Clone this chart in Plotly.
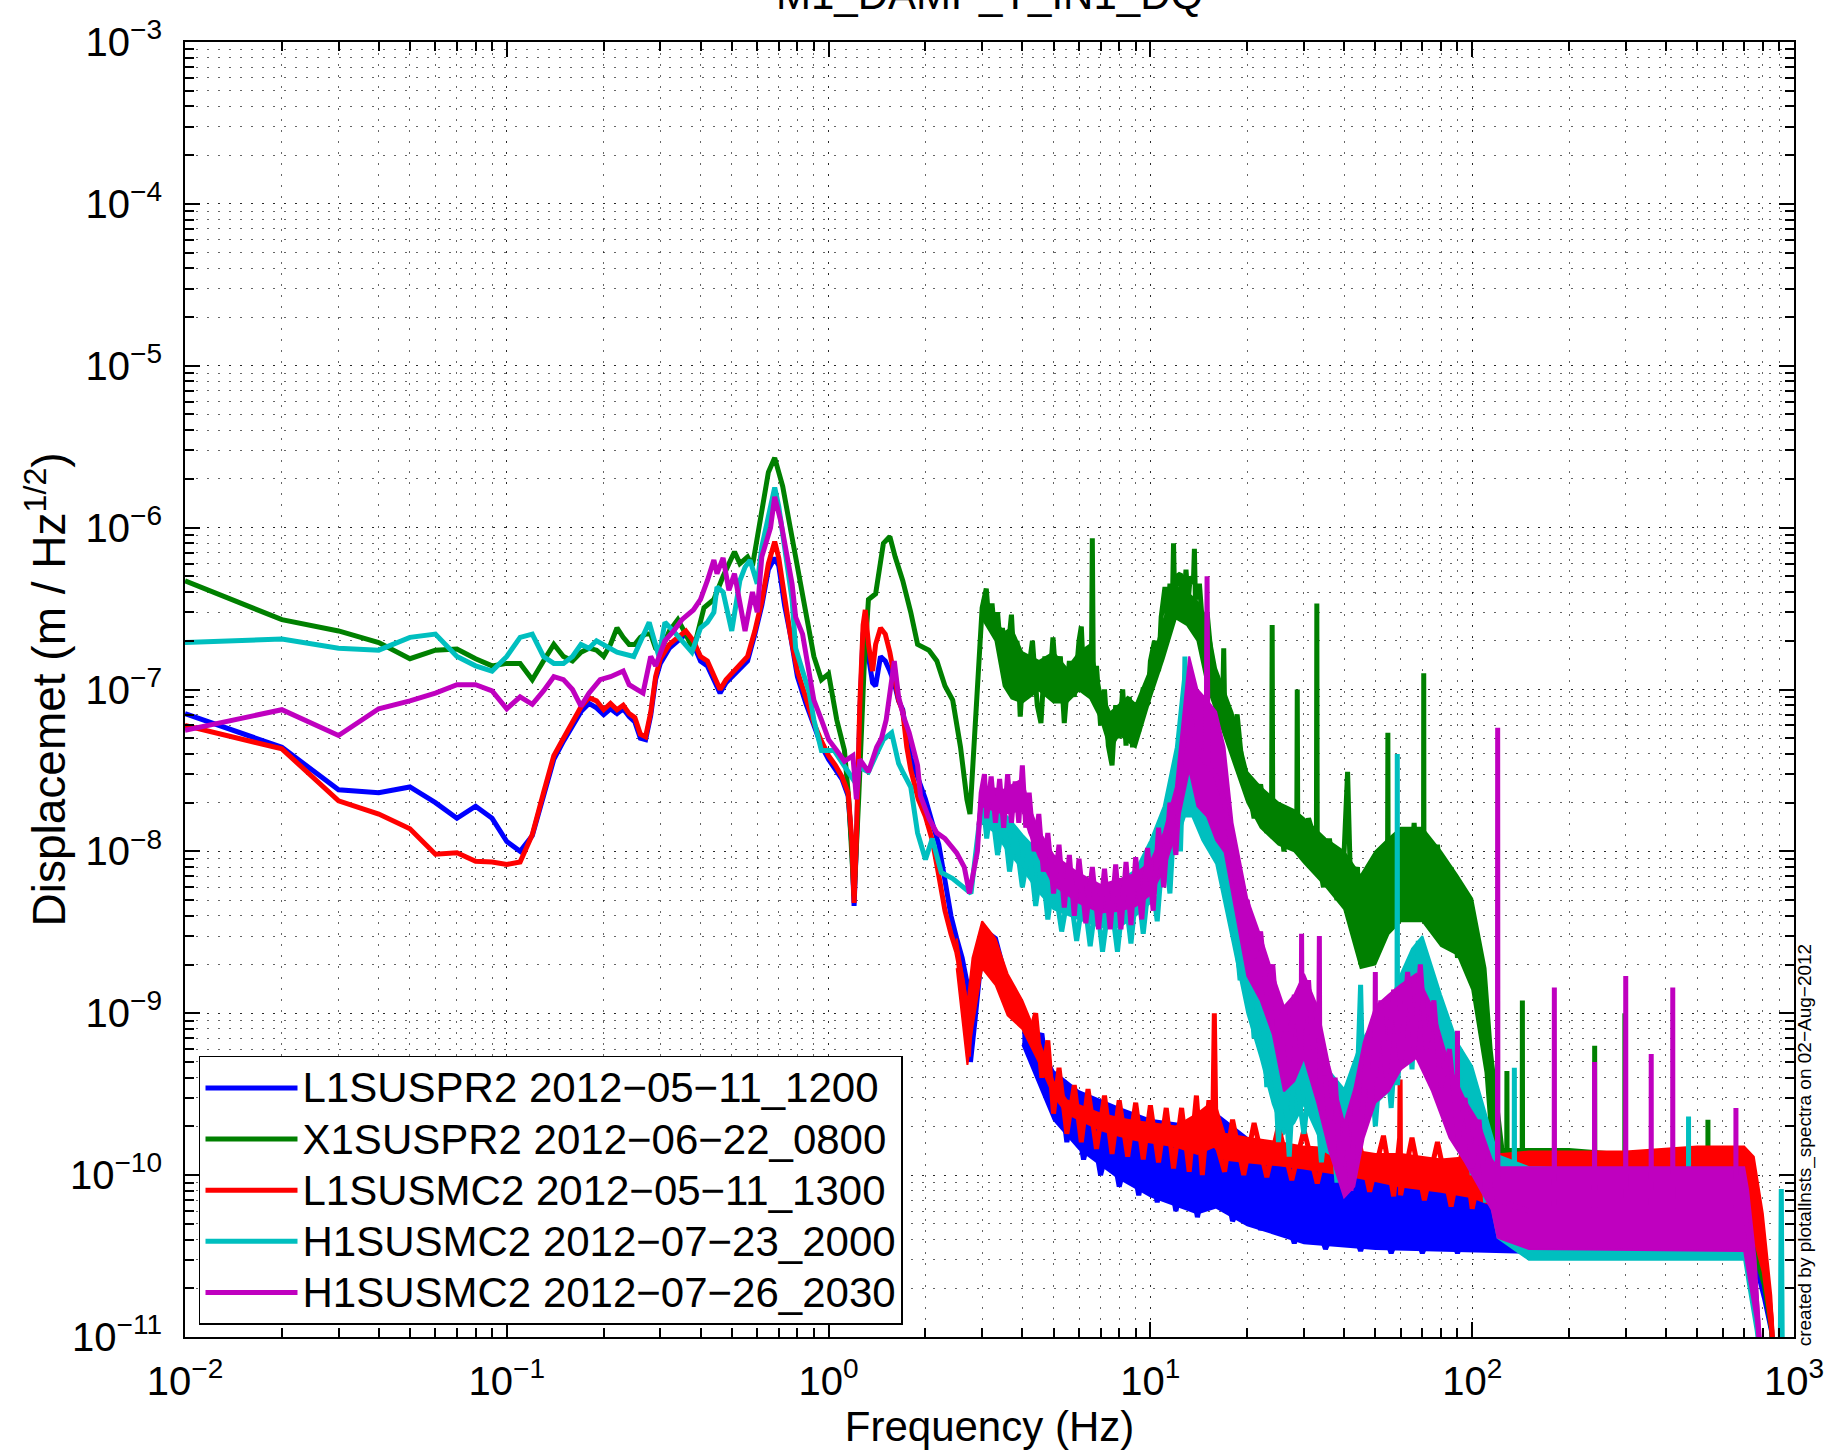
import plotly.graph_objects as go

# ---------------- data ----------------
legend_names = [
    "L1SUSPR2 2012\u221205\u221211_1200",
    "X1SUSPR2 2012\u221206\u221222_0800",
    "L1SUSMC2 2012\u221205\u221211_1300",
    "H1SUSMC2 2012\u221207\u221223_2000",
    "H1SUSMC2 2012\u221207\u221226_2030",
]
series_colors = ["#0000ff", "#008000", "#ff0000", "#00bfbf", "#bf00bf"]

# common low-frequency grid (Hz) used by the L1 traces
l1_f_low = [0.01,0.02,0.03,0.04,0.05,0.06,0.07,0.08,0.09,0.10,
            0.11,0.12,0.13,0.14,0.15,0.16,0.17,0.18,0.19,0.20,
            0.21,0.22,0.23,0.24,0.25,0.26,0.27,0.28,0.29,0.30,
            0.32,0.34,0.36,0.38,0.40,0.42,0.44,0.46,0.48,0.50,
            0.53,0.56,0.59,0.62,0.65,0.68,0.70,0.73,0.76,0.80,
            0.85,0.90,0.95,1.00,1.05,1.10,1.15,1.18,1.20,1.22,
            1.25,1.28,1.30,1.33,1.37,1.40,1.45,1.50,1.55,1.60,
            1.65,1.70,1.75,1.80,1.90,2.0,2.1,2.2,2.3,2.4,
            2.5,2.6,2.7,2.72,2.76,2.85,2.95,3.05,3.15,3.3,
            3.45,3.6,3.8,4.0]

# --- L1SUSPR2 (blue) ---
blue_v_low = [7.1e-8,4.4e-8,2.4e-8,2.3e-8,2.5e-8,2.0e-8,1.6e-8,1.9e-8,1.6e-8,1.15e-8,
              1.0e-8,1.25e-8,2.2e-8,3.7e-8,4.8e-8,6.0e-8,7.3e-8,8.2e-8,7.7e-8,7.0e-8,
              7.6e-8,7.1e-8,7.6e-8,6.8e-8,6.3e-8,5.0e-8,4.9e-8,6.9e-8,1.15e-7,1.45e-7,
              1.8e-7,2.0e-7,2.2e-7,1.9e-7,1.5e-7,1.4e-7,1.15e-7,9.5e-8,1.1e-7,1.2e-7,
              1.35e-7,1.5e-7,2.2e-7,3.3e-7,5.5e-7,6.5e-7,5.8e-7,3.3e-7,2.2e-7,1.2e-7,
              8.2e-8,6.0e-8,4.5e-8,3.7e-8,3.2e-8,2.8e-8,2.2e-8,1.1e-8,4.6e-9,1.1e-8,
              7.0e-8,2.2e-7,2.7e-7,1.6e-7,1.1e-7,1.05e-7,1.6e-7,1.5e-7,1.3e-7,1.1e-7,
              8.5e-8,7.5e-8,5.0e-8,3.8e-8,2.8e-8,2.1e-8,1.5e-8,1.1e-8,6.6e-9,4.0e-9,
              2.9e-9,2.2e-9,1.5e-9,9.0e-10,5.0e-10,9.0e-10,1.8e-9,2.5e-9,3.1e-9,2.9e-9,
              2.0e-9,1.5e-9,1.25e-9,1.05e-9]
blue_f_mid = [4.3,4.6,4.9,5.2,5.5,5.8,6.2,6.6,7.0,7.5,
              8.0,8.6,9.2,9.8,10.5,11.2,12,13,14,15,
              15.7,15.8,15.9,17,18,20,22,25,28,31,
              35,40,45,50,56,63,70,80,90,100,
              115,300,700,760,800,850,870]
blue_v_mid = [6.0e-10,7.5e-10,2.6e-10,4.0e-10,1.6e-10,2.6e-10,1.25e-10,2.0e-10,1.0e-10,1.7e-10,
              8.5e-11,1.5e-10,7.5e-11,1.4e-10,6.8e-11,1.3e-10,6.0e-11,1.2e-10,5.5e-11,1.1e-10,
              1.6e-10,4.0e-10,1.6e-10,9.0e-11,5.2e-11,8.0e-11,4.6e-11,7.5e-11,3.8e-11,7.0e-11,
              3.5e-11,6.5e-11,3.4e-11,6.2e-11,3.3e-11,6.0e-11,3.3e-11,6.0e-11,3.3e-11,6.0e-11,
              4.5e-11,6.0e-11,6.0e-11,5.0e-11,3.0e-11,1.2e-11,5e-12]
blue_band_f = [4.0,5.0,6.0,8.0,10,14,16,20,30,50,100,300,700,750,800,850,870]
blue_band_hi = [1.1e-9,4.4e-10,3.3e-10,2.6e-10,2.2e-10,2.0e-10,2.4e-10,1.7e-10,1.45e-10,1.3e-10,
                1.2e-10,1.1e-10,1.1e-10,9.5e-11,4.1e-11,1.4e-11,8e-12]
blue_band_lo = [6.4e-10,2.2e-10,1.45e-10,9.5e-11,7.4e-11,5.8e-11,6.3e-11,4.9e-11,3.8e-11,3.5e-11,
                3.4e-11,3.2e-11,3.2e-11,2.9e-11,1.75e-11,1e-11,6e-12]

# --- L1SUSMC2 (red) ---
red_v_low = [6.0e-8,4.3e-8,2.05e-8,1.7e-8,1.38e-8,9.6e-9,9.8e-9,8.7e-9,8.6e-9,8.3e-9,
             8.6e-9,1.27e-8,2.3e-8,3.9e-8,5.0e-8,6.3e-8,7.8e-8,8.9e-8,8.5e-8,7.5e-8,
             8.2e-8,7.5e-8,8.0e-8,7.1e-8,6.7e-8,5.3e-8,5.1e-8,7.2e-8,1.2e-7,1.55e-7,
             1.9e-7,2.1e-7,2.3e-7,2.0e-7,1.6e-7,1.5e-7,1.2e-7,1.0e-7,1.15e-7,1.25e-7,
             1.4e-7,1.6e-7,2.3e-7,3.5e-7,6.0e-7,8.2e-7,6.5e-7,3.5e-7,2.2e-7,1.3e-7,
             8.8e-8,6.2e-8,4.8e-8,3.9e-8,3.4e-8,2.9e-8,2.3e-8,1.2e-8,4.8e-9,1.2e-8,
             8.0e-8,2.5e-7,3.1e-7,1.9e-7,1.3e-7,1.9e-7,2.4e-7,2.2e-7,1.7e-7,1.2e-7,
             8.6e-8,7.3e-8,4.4e-8,3.2e-8,2.1e-8,1.64e-8,1.17e-8,7.1e-9,4.3e-9,3.1e-9,
             2.4e-9,1.6e-9,9.7e-10,5.4e-10,9.7e-10,1.9e-9,2.7e-9,3.3e-9,3.1e-9,2.2e-9,
             1.6e-9,1.35e-9,1.15e-9,9.7e-10]
red_f_mid = [4.2,4.4,4.6,4.8,5.0,5.2,5.5,5.8,6.1,6.4,
             6.8,7.2,7.6,8.0,8.5,9.0,9.5,10,10.6,11.2,
             11.8,12.5,13.2,13.9,14.5,15.2,15.6,15.8,16.0,17,
             18,19.5,21,23,25,27.5,30,33,36,40,
             44,48,53,57,59.5,59.7,59.9,65,71,78,
             86,94,100,110,120,200,400,700,750,800,
             850,870]
red_v_mid = [7.0e-10,1.0e-9,4.0e-10,6.8e-10,2.4e-10,4.6e-10,1.8e-10,3.6e-10,1.6e-10,3.4e-10,
             1.45e-10,3.1e-10,1.35e-10,2.9e-10,1.3e-10,2.8e-10,1.25e-10,2.7e-10,1.2e-10,2.6e-10,
             1.1e-10,2.6e-10,1.05e-10,3.1e-10,1.0e-10,2.9e-10,1.6e-10,1.0e-9,1.6e-10,1.05e-10,
             2.2e-10,1.0e-10,2.1e-10,9.7e-11,2.0e-10,9.3e-11,1.9e-10,8.9e-11,1.85e-10,8.5e-11,
             1.8e-10,7.9e-11,1.75e-10,7.4e-11,1.7e-10,3.9e-10,7.5e-11,1.7e-10,7.0e-11,1.6e-10,
             6.4e-11,1.55e-10,6.2e-11,1.5e-10,5.8e-11,9.5e-11,9.5e-11,1.0e-10,8.0e-11,4.0e-11,
             1.3e-11,5e-12]
red_band_f = [2.5,2.7,2.8,3.0,3.3,3.6,4.0,4.5,5.0,5.5,
              6.0,7.0,8.0,9.0,10,12,14,15.8,17,20,
              25,30,40,50,60,80,100,150,300,500,
              700,750,800,850,870]
red_band_hi = [2.9e-9,1.15e-9,2.2e-9,3.7e-9,2.9e-9,1.75e-9,1.2e-9,6.8e-10,3.8e-10,2.9e-10,
               2.7e-10,2.4e-10,2.25e-10,2.15e-10,2.1e-10,2.0e-10,2.4e-10,2.9e-10,1.8e-10,1.7e-10,
               1.6e-10,1.5e-10,1.45e-10,1.35e-10,1.35e-10,1.25e-10,1.3e-10,1.4e-10,1.4e-10,1.5e-10,
               1.5e-10,1.3e-10,5.8e-11,1.8e-11,8e-12]
red_band_lo = [1.9e-9,4.8e-10,8.2e-10,1.9e-9,1.5e-9,9.7e-10,8.0e-10,5.0e-10,3.1e-10,2.4e-10,
               2.2e-10,1.9e-10,1.75e-10,1.65e-10,1.6e-10,1.5e-10,1.35e-10,1.5e-10,1.25e-10,1.2e-10,
               1.15e-10,1.1e-10,1.0e-10,9.2e-11,8.5e-11,7.9e-11,7.3e-11,5.3e-11,4.9e-11,4.7e-11,
               4.9e-11,4.1e-11,2.5e-11,1e-11,6e-12]

# --- X1SUSPR2 (green) ---
green_f_low = [0.01,0.02,0.03,0.04,0.05,0.06,0.07,0.08,0.09,0.10,
               0.11,0.12,0.13,0.14,0.15,0.16,0.17,0.18,0.19,0.20,
               0.21,0.22,0.23,0.24,0.25,0.26,0.27,0.28,0.29,0.30,
               0.32,0.34,0.36,0.38,0.41,0.44,0.47,0.51,0.53,0.56,
               0.58,0.61,0.65,0.68,0.72,0.76,0.80,0.84,0.87,0.90,
               0.95,1.00,1.06,1.12,1.155,1.19,1.20,1.24,1.29,1.33,
               1.40,1.48,1.55,1.61,1.70,1.80,1.89,2.05,2.17,2.30,
               2.43,2.57,2.69,2.75,2.84,2.92,3.0,3.09,3.15,3.22,
               3.27,3.35,3.42,3.47,3.55,3.6,3.65,3.7,3.78,3.85,
               3.94,4.05,4.17,4.3,4.45,4.57,4.7,4.85,4.98,5.1,
               5.25,5.4,5.6,5.8,6.0,6.1,6.2,6.3,6.55,6.6,
               6.65,6.8,7.0,7.2,7.4,7.6,7.8,8.0,8.2,8.4,
               8.6,8.8,9.0,9.2,9.5,9.8,10.0,10.3,10.6,10.8,
               11.1,11.3,11.5,11.7,11.8,11.9,12.1,12.4,12.6,12.9,
               13.1,13.3,13.6,13.7,13.8,14.2,14.5,15,15.5,16,
               16.5,16.8,16.9,17,17.5,18,18.6,19.4]
green_v_low = [4.7e-7,2.7e-7,2.3e-7,1.95e-7,1.55e-7,1.75e-7,1.78e-7,1.55e-7,1.4e-7,1.45e-7,
               1.45e-7,1.15e-7,1.5e-7,1.9e-7,1.6e-7,1.5e-7,1.7e-7,1.8e-7,1.75e-7,1.6e-7,
               1.9e-7,2.4e-7,2.1e-7,1.9e-7,1.9e-7,2.1e-7,2.2e-7,2.2e-7,1.8e-7,1.7e-7,
               2.3e-7,2.7e-7,2.2e-7,1.75e-7,3.2e-7,3.6e-7,5.0e-7,7.1e-7,6.0e-7,6.6e-7,
               5.8e-7,1.07e-6,2.2e-6,2.7e-6,1.8e-6,1.0e-6,5.7e-7,3.4e-7,2.2e-7,1.6e-7,
               1.15e-7,1.25e-7,6.5e-8,4.2e-8,2.1e-8,8.0e-9,5.3e-9,2.1e-8,1.4e-7,3.6e-7,
               3.9e-7,8.0e-7,8.8e-7,6.6e-7,4.7e-7,3.0e-7,1.9e-7,1.75e-7,1.5e-7,1.05e-7,
               8.6e-8,4.4e-8,2.1e-8,1.7e-8,5.3e-8,1.4e-7,3.2e-7,4.2e-7,2.6e-7,3.4e-7,
               2.4e-7,3.0e-7,1.8e-7,2.4e-7,1.2e-7,1.0e-7,2.2e-7,2.9e-7,1.3e-7,2.0e-7,
               6.8e-8,1.6e-7,1.26e-7,2.0e-7,8.0e-8,6.2e-8,1.6e-7,1.0e-7,2.1e-7,1.1e-7,
               1.6e-7,6.2e-8,1.5e-7,9.0e-8,2.0e-7,2.45e-7,1.2e-7,1.5e-7,1.0e-7,8.6e-7,
               1.1e-7,1.4e-7,6.0e-8,1.0e-7,4.5e-8,3.4e-8,8.0e-8,5.0e-8,1.0e-7,4.5e-8,
               9.0e-8,4.4e-8,8.0e-8,5.5e-8,1.03e-7,8.0e-8,1.5e-7,2.0e-7,1.3e-7,2.8e-7,
               4.3e-7,2.5e-7,4.5e-7,3.3e-7,8.0e-7,3.5e-7,5.0e-7,5.2e-7,3.0e-7,5.5e-7,
               3.5e-7,5.0e-7,4.5e-7,7.4e-7,3.6e-7,4.5e-7,2.6e-7,3.0e-7,1.5e-7,1.2e-7,
               7.0e-8,1.0e-7,1.8e-7,8.0e-8,6.0e-8,5.0e-8,7.0e-8,3.0e-8]
green_f_high = [20,21,22,23,23.8,23.9,24.0,25,26,27,
                28.5,28.6,28.7,30,31,32.8,32.9,33.0,34.5,36,
                38,40,41,42,44,45,47,49,51,53,
                54.6,54.7,54.8,57,60,63,66,68.5,70.6,70.7,
                70.8,74,78,82,86,90,95,101,110,118,
                128,128.2,128.4,143,143.2,143.4,240,240.2,240.4,298,
                298.2,298.4,540,540.2,540.4,750,800,850,870]
green_v_high = [2.8e-8,1.6e-8,2.6e-8,1.3e-8,1.8e-8,2.5e-7,1.6e-8,2.0e-8,1.0e-8,1.8e-8,
                1.4e-8,1.0e-7,1.3e-8,9.0e-9,1.6e-8,1.1e-8,3.4e-7,1.0e-8,6.0e-9,1.2e-8,
                5.0e-9,1.0e-8,3.1e-8,5.0e-9,8.0e-9,2.0e-9,7.0e-9,2.2e-9,9.0e-9,3.0e-9,
                1.2e-8,5.4e-8,8.0e-9,3.5e-9,1.4e-8,4.0e-9,1.5e-8,5.0e-9,1.2e-8,1.26e-7,
                8.0e-9,3.5e-9,1.1e-8,3.0e-9,8.0e-9,2.2e-9,5.0e-9,3.0e-9,8.0e-10,1.2e-10,
                1.0e-10,4.4e-10,1.0e-10,1.0e-10,1.2e-9,1.0e-10,8.0e-11,6.3e-10,8.0e-11,8.0e-11,
                1.0e-9,8.0e-11,8.0e-11,2.2e-10,8.0e-11,7.0e-11,3.0e-11,1.2e-11,5e-12]
green_band_f = [3.0,3.3,3.5,3.7,4.0,4.5,5.0,5.5,6.0,6.5,
                7.0,7.5,8.0,8.5,9.0,10,11,12,13,14,
                15,16,18,20,22,25,28,30,35,40,
                45,50,55,60,70,80,90,100,110,115,
                125,200,400,700,750,800,850,870]
green_band_hi = [3.6e-7,2.7e-7,2.25e-7,2.4e-7,1.7e-7,1.5e-7,1.7e-7,1.35e-7,1.7e-7,1.9e-7,
                 9.9e-8,7.2e-8,8.1e-8,9.0e-8,8.1e-8,1.35e-7,2.7e-7,4.3e-7,4.0e-7,3.5e-7,
                 2.7e-7,1.35e-7,7.2e-8,3.1e-8,2.5e-8,2.0e-8,1.8e-8,1.6e-8,1.2e-8,1.0e-8,
                 7.1e-9,1.0e-8,1.2e-8,1.4e-8,1.4e-8,1.0e-8,7.1e-9,5.1e-9,1.9e-9,5.9e-10,
                 1.45e-10,1.45e-10,1.3e-10,1.3e-10,1.1e-10,4.9e-11,1.4e-11,8e-12]
green_band_lo = [2.75e-7,2.0e-7,1.05e-7,8.8e-8,8.3e-8,9.9e-8,8.3e-8,8.3e-8,9.9e-8,8.8e-8,
                 6.6e-8,4.2e-8,5.3e-8,4.8e-8,4.4e-8,8.8e-8,1.55e-7,2.75e-7,2.5e-7,2.0e-7,
                 1.05e-7,7.2e-8,3.7e-8,2.0e-8,1.4e-8,1.1e-8,1.0e-8,8.5e-9,6.1e-9,4.4e-9,
                 1.9e-9,2.0e-9,3.1e-9,3.7e-9,3.7e-9,2.6e-9,2.3e-9,1.4e-9,4.3e-10,1.33e-10,
                 4.9e-11,4.1e-11,3.8e-11,3.8e-11,3.2e-11,2.1e-11,1e-11,6e-12]

# --- H1SUSMC2 2012-07-23 (cyan) ---
cyan_f_low = [0.01,0.02,0.03,0.04,0.05,0.06,0.07,0.08,0.09,0.10,
              0.11,0.12,0.13,0.14,0.15,0.16,0.17,0.18,0.19,0.20,
              0.22,0.248,0.277,0.297,0.31,0.336,0.376,0.40,0.42,0.44,
              0.45,0.47,0.50,0.53,0.55,0.57,0.60,0.62,0.66,0.68,
              0.70,0.73,0.77,0.79,0.84,0.87,0.90,0.95,1.04,1.11,
              1.19,1.25,1.33,1.41,1.48,1.57,1.65,1.70,1.80,1.89,
              2.0,2.1,2.24,2.43,2.64,2.77,2.95]
cyan_v_low = [1.95e-7,2.05e-7,1.8e-7,1.75e-7,2.1e-7,2.2e-7,1.6e-7,1.4e-7,1.3e-7,1.6e-7,
              2.1e-7,2.2e-7,1.6e-7,1.45e-7,1.45e-7,1.6e-7,1.9e-7,1.8e-7,2.0e-7,1.9e-7,
              1.7e-7,1.6e-7,2.6e-7,1.6e-7,2.6e-7,2.2e-7,1.7e-7,2.4e-7,2.6e-7,3.0e-7,
              4.3e-7,4.0e-7,2.3e-7,4.7e-7,5.7e-7,6.3e-7,4.5e-7,7.6e-7,1.28e-6,1.77e-6,
              1.35e-6,7.3e-7,3.6e-7,1.8e-7,1.25e-7,9.6e-8,6.5e-8,4.2e-8,4.2e-8,3.5e-8,
              2.8e-8,3.3e-8,3.1e-8,4.0e-8,4.9e-8,5.4e-8,3.5e-8,3.1e-8,2.5e-8,1.3e-8,
              8.9e-9,1.2e-8,7.4e-9,6.8e-9,6.0e-9,5.5e-9,1.6e-8]
cyan_f_mid = [3.0,3.1,3.2,3.35,3.5,3.65,3.8,4.0,4.2,4.4,
              4.6,4.8,5.0,5.3,5.6,5.9,6.2,6.5,6.8,7.1,
              7.5,7.9,8.3,8.7,9.1,9.5,10,10.5,11,11.5,
              12,12.4,12.7,12.8,12.9,13.5,14.5,16,18,19,
              20,21,22,23,24,25,26,27,28,30,
              32,34,36,38,40,42,44,45,46,48,
              50,53,56,58.4,58.5,58.6,62,65,68,71,
              75,80,85,90,95,100,105,110,120]
cyan_v_mid = [2.3e-8,1.2e-8,2.0e-8,9.5e-9,1.6e-8,7.5e-9,1.3e-8,6.0e-9,1.05e-8,4.6e-9,
              8.5e-9,3.8e-9,7.0e-9,3.2e-9,6.0e-9,2.8e-9,5.5e-9,2.6e-9,5.2e-9,2.4e-9,
              5.5e-9,2.4e-9,6.0e-9,2.7e-9,6.5e-9,3.1e-9,8.0e-9,3.7e-9,1.2e-8,5.5e-9,
              2.5e-8,1.0e-8,5.0e-8,1.6e-7,5.0e-8,4.0e-8,2.6e-8,1.9e-8,5.0e-9,1.6e-9,
              2.8e-9,7.0e-10,1.6e-9,3.5e-10,8.0e-10,1.6e-10,4.5e-10,1.3e-10,5.0e-10,1.8e-10,
              6.0e-10,1.2e-10,3.5e-10,9.0e-11,2.5e-10,8.5e-11,4.0e-10,1.5e-9,2.2e-10,7.0e-10,
              2.0e-10,9.0e-10,2.6e-10,9.0e-10,4.0e-8,3.6e-10,1.8e-9,4.5e-10,2.8e-9,6.0e-10,
              1.6e-9,3.0e-10,8.0e-10,1.5e-10,4.0e-10,1.0e-10,2.6e-10,7.0e-11,7.0e-11]
cyan_f_high = [135,135.2,135.4,300,470,470.2,470.4,700,720,760,790,880,905,913,921,950]
cyan_v_high = [6.0e-11,4.6e-10,6.0e-11,6.0e-11,6.0e-11,2.3e-10,6.0e-11,6.0e-11,4.0e-11,1.5e-11,
               7e-12,5e-12,5e-12,8.2e-11,5e-12,5e-12]
cyan_band_f = [3.0,3.3,3.6,4.0,4.5,5.0,6.0,7.0,8.0,9.0,
               10,11,12,12.8,13.5,14.5,16,18,20,22,
               24,26,28,30,35,40,45,50,55,60,
               65,70,80,90,100,110,120,150,700,720,
               760,790]
cyan_band_hi = [2.7e-8,1.9e-8,1.64e-8,1.27e-8,9.9e-9,7.7e-9,6.5e-9,6.0e-9,6.5e-9,7.7e-9,
                1.17e-8,1.9e-8,4.4e-8,1.5e-7,1.0e-7,6.2e-8,4.4e-8,9.4e-9,3.4e-9,2.1e-9,
                1.1e-9,6.6e-10,7.8e-10,9.2e-10,4.7e-10,3.4e-10,6.6e-10,9.2e-10,1.1e-9,1.75e-9,
                2.5e-9,3.0e-9,1.3e-9,6.6e-10,4.7e-10,2.4e-10,1.33e-10,1.12e-10,1.03e-10,6.8e-11,
                2.1e-11,8e-12]
cyan_band_lo = [1.5e-8,1.3e-8,1.0e-8,7.8e-9,5.6e-9,4.4e-9,3.8e-9,3.4e-9,3.4e-9,4.0e-9,
                4.8e-9,6.6e-9,1.1e-8,1.64e-8,1.64e-8,1.17e-8,8.4e-9,2.75e-9,1.0e-9,5.3e-10,
                2.75e-10,1.8e-10,2.1e-10,2.75e-10,1.4e-10,1.2e-10,1.9e-10,2.75e-10,3.3e-10,4.5e-10,
                7.4e-10,8.8e-10,3.8e-10,1.9e-10,1.4e-10,1.0e-10,4.1e-11,3.0e-11,3.0e-11,2.1e-11,
                1.1e-11,6e-12]

# --- H1SUSMC2 2012-07-26 (magenta) ---
magenta_f_low = [0.01,0.02,0.03,0.04,0.05,0.06,0.07,0.08,0.09,0.10,
                 0.11,0.12,0.13,0.14,0.15,0.16,0.17,0.18,0.195,0.21,
                 0.23,0.24,0.265,0.28,0.29,0.31,0.33,0.35,0.38,0.40,
                 0.42,0.44,0.45,0.47,0.49,0.51,0.55,0.58,0.60,0.62,
                 0.66,0.68,0.71,0.74,0.77,0.79,0.83,0.86,0.90,0.95,
                 1.0,1.06,1.12,1.19,1.22,1.25,1.33,1.41,1.46,1.51,
                 1.57,1.60,1.65,1.71,1.78,1.89,1.93,2.05,2.17,2.3,
                 2.5,2.64,2.74]
magenta_v_low = [5.6e-8,7.5e-8,5.2e-8,7.6e-8,8.5e-8,9.5e-8,1.07e-7,1.07e-7,9.8e-8,7.6e-8,
                 9.0e-8,8.1e-8,9.8e-8,1.2e-7,1.15e-7,1.0e-7,7.9e-8,9.5e-8,1.15e-7,1.2e-7,
                 1.3e-7,1.07e-7,9.5e-8,1.6e-7,1.4e-7,2.0e-7,2.3e-7,2.7e-7,3.1e-7,3.6e-7,
                 4.7e-7,6.3e-7,5.2e-7,6.5e-7,4.1e-7,5.2e-7,2.3e-7,4.0e-7,3.0e-7,6.6e-7,
                 1.0e-6,1.55e-6,1.1e-6,6.9e-7,4.5e-7,2.8e-7,2.2e-7,1.45e-7,8.6e-8,6.5e-8,
                 4.9e-8,4.2e-8,3.6e-8,3.9e-8,2.1e-8,3.7e-8,3.1e-8,4.4e-8,5.0e-8,6.5e-8,
                 1.2e-7,1.5e-7,9.0e-8,6.8e-8,5.4e-8,3.4e-8,2.2e-8,1.6e-8,1.3e-8,1.2e-8,
                 9.8e-9,8.0e-9,5.5e-9]
magenta_f_mid = [2.9,2.98,3.05,3.1,3.2,3.3,3.4,3.5,3.6,3.7,
                 3.8,3.9,4.0,4.1,4.2,4.35,4.5,4.65,4.8,5.0,
                 5.2,5.4,5.6,5.8,6.0,6.3,6.6,6.9,7.2,7.5,
                 7.8,8.1,8.4,8.7,9.0,9.4,9.8,10.2,10.6,11,
                 11.5,12,12.5,13.2,14,14.9,15.0,15.1,16,17]
magenta_v_mid = [1.0e-8,2.3e-8,3.0e-8,1.6e-8,2.9e-8,1.5e-8,2.8e-8,1.4e-8,3.0e-8,1.5e-8,
                 2.7e-8,1.5e-8,3.4e-8,1.4e-8,2.3e-8,1.0e-8,1.7e-8,7.5e-9,1.3e-8,5.5e-9,
                 1.1e-8,4.5e-9,9.5e-9,4.0e-9,9.0e-9,3.6e-9,8.0e-9,3.3e-9,7.8e-9,3.3e-9,
                 8.3e-9,3.3e-9,8.6e-9,3.5e-9,9.2e-9,3.8e-9,1.05e-8,4.3e-9,1.4e-8,6.0e-9,
                 2.0e-8,9.5e-9,4.0e-8,7.0e-8,4.4e-8,3.5e-8,5.0e-7,3.5e-8,2.9e-8,2.0e-8]
magenta_f_high = [18,19,20,21,22,23,24,25,26,27,
                  28,29.4,29.5,29.6,31,32,33.4,33.5,33.6,35,
                  36,37.5,39,40.5,42,43.5,45,47,48.5,49.9,
                  50,50.1,52,54,57,60,63,66,69,72,
                  76,80,85,89.9,90,90.1,95,100,105,110,
                  115,119.8,120,120.2,150,179.8,180,180.2,239.8,240,
                  240.2,299.8,300,300.2,359.8,360,360.2,419.8,420,420.2,
                  659.8,660,660.2,700,720,760,790]
magenta_v_high = [9.0e-9,4.5e-9,5.0e-9,2.2e-9,3.2e-9,1.3e-9,2.0e-9,7.0e-10,1.1e-9,5.0e-10,
                  1.3e-9,6.0e-10,3.1e-9,8.0e-10,1.6e-9,6.0e-10,1.2e-9,3.0e-9,4.0e-10,4.0e-10,
                  2.0e-10,4.0e-10,1.0e-10,2.2e-10,8.0e-11,3.0e-10,1.6e-10,6.0e-10,2.5e-10,8.0e-10,
                  1.8e-9,4.0e-10,1.2e-9,4.0e-10,1.4e-9,5.0e-10,1.8e-9,6.0e-10,2.0e-9,6.0e-10,
                  1.2e-9,3.5e-10,6.0e-10,2.0e-10,7.8e-10,1.6e-10,3.0e-10,1.1e-10,2.2e-10,8.0e-11,
                  1.2e-10,7.0e-11,5.8e-8,7.0e-11,6.0e-11,6.0e-11,1.44e-9,6.0e-11,6.0e-11,5.0e-10,
                  6.0e-11,6.0e-11,1.7e-9,6.0e-11,6.0e-11,5.6e-10,6.0e-11,6.0e-11,1.44e-9,6.0e-11,
                  6.0e-11,2.6e-10,6.0e-11,6.0e-11,4.5e-11,2.0e-11,7e-12]
magenta_band_f = [2.9,3.0,3.5,4.0,4.2,4.5,5.0,6.0,7.0,8.0,
                  9.0,10,11,12,13.2,14,15,16,17,18,
                  20,22,24,26,28,30,33,36,40,43,
                  46,50,55,60,67,75,85,95,105,115,
                  120,150,700,720,760,790]
magenta_band_hi = [1.45e-8,2.5e-8,2.4e-8,2.8e-8,1.9e-8,1.35e-8,9.5e-9,7.3e-9,6.2e-9,6.7e-9,
                   7.3e-9,8.6e-9,1.3e-8,2.5e-8,1.6e-7,1.0e-7,8.6e-8,7.3e-8,4.4e-8,1.5e-8,
                   5.1e-9,3.0e-9,1.75e-9,1.1e-9,1.3e-9,1.75e-9,1.1e-9,4.7e-10,2.1e-10,3.4e-10,
                   6.6e-10,1.1e-9,1.3e-9,1.5e-9,1.75e-9,1.1e-9,4.7e-10,2.9e-10,2.1e-10,1.25e-10,
                   1.12e-10,1.12e-10,1.12e-10,8.1e-11,3.0e-11,8e-12]
magenta_band_lo = [1.0e-8,1.9e-8,1.7e-8,1.8e-8,1.3e-8,9.3e-9,6.2e-9,4.8e-9,4.2e-9,4.3e-9,
                   4.6e-9,5.4e-9,7.7e-9,1.3e-8,3.2e-8,1.9e-8,1.64e-8,1.17e-8,9.9e-9,5.4e-9,
                   1.7e-9,1.2e-9,7.4e-10,3.3e-10,3.8e-10,5.3e-10,2.8e-10,1.4e-10,7.3e-11,8.5e-11,
                   1.7e-10,2.8e-10,3.3e-10,4.5e-10,5.3e-10,3.3e-10,1.7e-10,1.2e-10,8.5e-11,6.1e-11,
                   4.1e-11,3.5e-11,3.4e-11,2.5e-11,1.3e-11,6e-12]

x_tick_vals = [1e-2, 1e-1, 1e0, 1e1, 1e2, 1e3]
x_tick_text = ["10<sup>\u22122</sup>", "10<sup>\u22121</sup>", "10<sup>0</sup>",
               "10<sup>1</sup>", "10<sup>2</sup>", "10<sup>3</sup>"]
y_tick_vals = [1e-11, 1e-10, 1e-9, 1e-8, 1e-7, 1e-6, 1e-5, 1e-4, 1e-3]
y_tick_text = ["10<sup>\u221211</sup>", "10<sup>\u221210</sup>", "10<sup>\u22129</sup>",
               "10<sup>\u22128</sup>", "10<sup>\u22127</sup>", "10<sup>\u22126</sup>",
               "10<sup>\u22125</sup>", "10<sup>\u22124</sup>", "10<sup>\u22123</sup>"]
title_text = "M1_DAMP_T_IN1_DQ"
x_title = "Frequency (Hz)"
y_title = "Displacemet (m / Hz<sup>1/2</sup>)"
credit_text = "created by plotallnsts_spectra on 02\u2212Aug\u22122012"

# ---------------- figure ----------------
FONT = "Liberation Sans, Arial, Helvetica, sans-serif"
W, H = 1830, 1453
ML, MR, MT, MB = 185, 36, 42, 116
PW, PH = W - ML - MR, H - MT - MB

series = [
    (legend_names[0], series_colors[0], l1_f_low + blue_f_mid, blue_v_low + blue_v_mid,
     blue_band_f, blue_band_hi, blue_band_lo),
    (legend_names[1], series_colors[1], green_f_low + green_f_high, green_v_low + green_v_high,
     green_band_f, green_band_hi, green_band_lo),
    (legend_names[2], series_colors[2], l1_f_low + red_f_mid, red_v_low + red_v_mid,
     red_band_f, red_band_hi, red_band_lo),
    (legend_names[3], series_colors[3], cyan_f_low + cyan_f_mid + cyan_f_high,
     cyan_v_low + cyan_v_mid + cyan_v_high, cyan_band_f, cyan_band_hi, cyan_band_lo),
    (legend_names[4], series_colors[4], magenta_f_low + magenta_f_mid + magenta_f_high,
     magenta_v_low + magenta_v_mid + magenta_v_high,
     magenta_band_f, magenta_band_hi, magenta_band_lo),
]

fig = go.Figure()
for name, color, f, v, bf, bhi, blo in series:
    assert len(f) == len(v), (name, len(f), len(v))
    assert len(bf) == len(bhi) == len(blo), (name, len(bf), len(bhi), len(blo))
    fig.add_trace(go.Scatter(
        x=list(bf) + list(bf)[::-1], y=list(bhi) + list(blo)[::-1],
        mode="lines", fill="toself", fillcolor=color,
        line=dict(color=color, width=2), showlegend=False, hoverinfo="skip"))
    fig.add_trace(go.Scatter(
        x=f, y=v, mode="lines",
        name='<span style="font-size:42px">' + name + '</span>',
        line=dict(color=color, width=5)))

grid = dict(gridcolor="rgba(0,0,0,0.6)", gridwidth=1, griddash="2px,9px")
axis_common = dict(
    type="log", tickmode="array",
    showline=True, linecolor="black", linewidth=2, mirror="allticks",
    ticks="inside", ticklen=15, tickwidth=1.5, tickcolor="black",
    showgrid=True, zeroline=False, ticklabeloverflow="allow",
    tickfont=dict(family=FONT, size=40, color="black"),
    minor=dict(dtick="D1", ticks="inside", ticklen=9, tickwidth=1.5,
               tickcolor="black", showgrid=True, **grid),
    **grid,
)

fig.update_xaxes(range=[-2, 3], tickvals=x_tick_vals, ticktext=x_tick_text,
                 ticklabelstandoff=8,
                 title=dict(text=x_title, font=dict(family=FONT, size=42), standoff=8),
                 **axis_common)
fig.update_yaxes(range=[-11, -3], tickvals=y_tick_vals, ticktext=y_tick_text,
                 ticklabelstandoff=13,
                 **axis_common)

fig.update_layout(
    width=W, height=H,
    margin=dict(l=ML, r=MR, t=MT, b=MB, autoexpand=False),
    paper_bgcolor="white", plot_bgcolor="white",
    font=dict(family=FONT, size=42, color="black"),
    showlegend=True,
    legend=dict(x=0.0087, y=0.0093, xanchor="left", yanchor="bottom",
                bgcolor="white", bordercolor="black", borderwidth=1.5,
                font=dict(family=FONT, size=37, color="black"),
                itemwidth=92, tracegroupgap=0, traceorder="normal"),
    annotations=[
        dict(text=title_text, xref="paper", yref="paper", x=0.5, y=1.037,
             xanchor="center", yanchor="middle", showarrow=False,
             font=dict(family=FONT, size=42, color="black")),
        dict(text=y_title, xref="paper", yref="paper", x=(45 - ML) / PW, y=0.5,
             xanchor="center", yanchor="middle", textangle=-90, showarrow=False,
             font=dict(family=FONT, size=46, color="black")),
        dict(text=credit_text, xref="paper", yref="paper", x=1.0068, y=0.148,
             xanchor="center", yanchor="middle", textangle=-90, showarrow=False,
             font=dict(family=FONT, size=19, color="black")),
    ],
)

fig.write_html("out.html", config={"displayModeBar": False},
               post_script="document.body.style.margin='0';document.body.style.overflow='hidden';")
